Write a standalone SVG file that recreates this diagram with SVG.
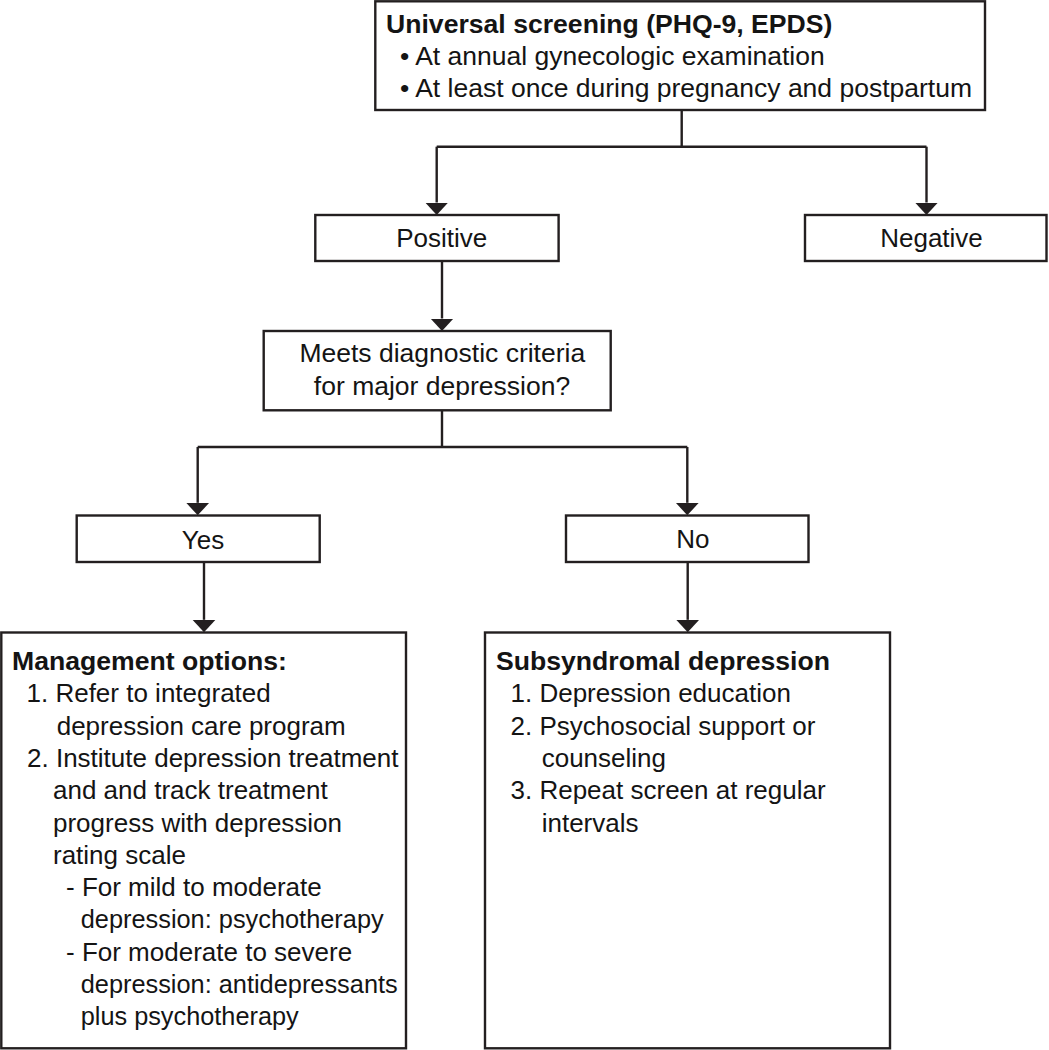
<svg xmlns="http://www.w3.org/2000/svg" width="1049" height="1050" viewBox="0 0 1049 1050">
<style>
  .box{fill:#ffffff;stroke:#231f20;stroke-width:2.4}
  .con{fill:none;stroke:#231f20;stroke-width:2.4;stroke-linecap:butt}
  text{font-family:"Liberation Sans",Arial,Helvetica,sans-serif;fill:#141414;font-size:26px}
  .b{font-weight:bold;font-size:26.6px}
  .m{text-anchor:middle}
  .l{font-size:26.5px}
</style>
<defs>
  <marker id="ah" markerUnits="userSpaceOnUse" viewBox="0 -12 13 24" refX="0" refY="0" markerWidth="13" markerHeight="24" orient="auto">
    <path d="M0,-11.5 L12.5,0 L0,11.5 z" fill="#231f20"/>
  </marker>
</defs>
<rect width="1049" height="1050" fill="#ffffff"/>

<g id="connectors">
  <path class="con" d="M681.7,110 V146.7 M436.7,146.7 H926.5"/>
  <path class="con" d="M436.7,146.7 V202.5" marker-end="url(#ah)"/>
  <path class="con" d="M926.5,146.7 V202.5" marker-end="url(#ah)"/>
  <path class="con" d="M442,261 V318.5" marker-end="url(#ah)"/>
  <path class="con" d="M442,410.3 V447 M197.7,447 H687.3"/>
  <path class="con" d="M197.7,447 V502.8" marker-end="url(#ah)"/>
  <path class="con" d="M687.3,447 V502.8" marker-end="url(#ah)"/>
  <path class="con" d="M204,562 V619.8" marker-end="url(#ah)"/>
  <path class="con" d="M687.7,562 V619.8" marker-end="url(#ah)"/>
</g>

<g id="screening">
  <rect class="box" x="375.3" y="1.3" width="609.7" height="108.7"/>
  <text class="b" x="386" y="33">Universal screening (PHQ-9, EPDS)</text>
  <text class="l" x="400" y="65">• At annual gynecologic examination</text>
  <text class="l" x="400" y="97">• At least once during pregnancy and postpartum</text>
</g>

<g id="positive">
  <rect class="box" x="315.3" y="215" width="243.3" height="46"/>
  <text class="m" x="441.7" y="247">Positive</text>
</g>

<g id="negative">
  <rect class="box" x="805" y="215" width="241.5" height="46"/>
  <text class="m" x="931.5" y="247">Negative</text>
</g>

<g id="criteria">
  <rect class="box" x="263.7" y="331" width="347" height="79.3"/>
  <text class="m l" x="442.3" y="362">Meets diagnostic criteria</text>
  <text class="m l" x="442" y="395">for major depression?</text>
</g>

<g id="yes">
  <rect class="box" x="76.7" y="515.5" width="243" height="46.5"/>
  <text class="m" x="203" y="548.5">Yes</text>
</g>

<g id="no">
  <rect class="box" x="566" y="515.5" width="242.5" height="46.5"/>
  <text class="m" x="692.8" y="548">No</text>
</g>

<g id="management">
  <rect class="box" x="1.3" y="632.5" width="404.7" height="415.8"/>
  <text class="b" x="12" y="670">Management options:</text>
  <text x="26.5" y="702.3">1. Refer to integrated</text>
  <text x="56.7" y="734.6">depression care program</text>
  <text x="27" y="766.9">2. Institute depression treatment</text>
  <text x="53" y="799.2">and and track treatment</text>
  <text x="53" y="831.5">progress with depression</text>
  <text x="53" y="863.8">rating scale</text>
  <text x="66" y="896.1">- For mild to moderate</text>
  <text x="80.7" y="928.4" textLength="303" lengthAdjust="spacingAndGlyphs">depression: psychotherapy</text>
  <text x="66" y="960.7">- For moderate to severe</text>
  <text x="80.7" y="993" textLength="317" lengthAdjust="spacingAndGlyphs">depression: antidepressants</text>
  <text x="80.7" y="1025.3" textLength="218" lengthAdjust="spacingAndGlyphs">plus psychotherapy</text>
</g>

<g id="subsyndromal">
  <rect class="box" x="485" y="632.5" width="405" height="415.8"/>
  <text class="b" x="496" y="670">Subsyndromal depression</text>
  <text x="510.5" y="702.3">1. Depression education</text>
  <text x="510.5" y="734.6">2. Psychosocial support or</text>
  <text x="541.7" y="766.9">counseling</text>
  <text x="510.5" y="799.2">3. Repeat screen at regular</text>
  <text x="541.7" y="831.5">intervals</text>
</g>
</svg>
